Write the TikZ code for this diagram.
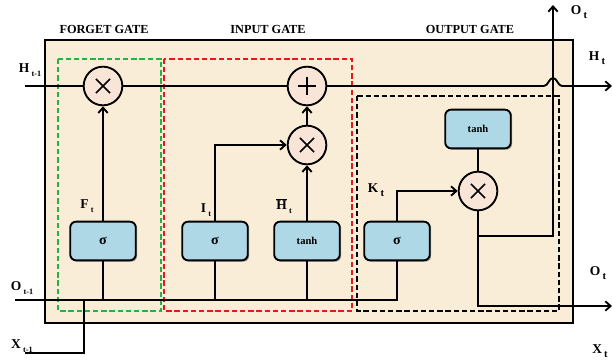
\documentclass[tikz,border=0pt]{standalone}
\usepackage{fontspec}
\setmainfont{Liberation Serif}
\usetikzlibrary{arrows.meta,shadows}

\definecolor{cellbg}{RGB}{250,237,216}
\definecolor{opfill}{RGB}{249,229,216}
\definecolor{actfill}{RGB}{174,216,229}
\definecolor{fgreen}{RGB}{40,175,70}
\definecolor{ired}{RGB}{228,25,25}

\newcommand{\idx}[2]{#1\raisebox{-0.6ex}{\,#2}}

\tikzset{
  wire/.style={line width=1.6pt},
  flow/.style={wire, -{Straight Barb[length=4.5pt,width=8pt]}},
  gatebox/.style={line width=1.5pt, dash pattern=on 4.5pt off 2.5pt},
  op/.style={circle, draw, line width=1.6pt, fill=opfill, minimum size=33pt, inner sep=0pt},
  mulop/.style={op, path picture={
      \draw[line width=1.3pt]
        ([shift={(-6pt,-6pt)}]path picture bounding box.center) -- ([shift={(6pt,6pt)}]path picture bounding box.center)
        ([shift={(-6pt,6pt)}]path picture bounding box.center) -- ([shift={(6pt,-6pt)}]path picture bounding box.center);}},
  addop/.style={op, path picture={
      \draw[line width=1.3pt]
        ([shift={(-8pt,0pt)}]path picture bounding box.center) -- ([shift={(8pt,0pt)}]path picture bounding box.center)
        ([shift={(0pt,8pt)}]path picture bounding box.center) -- ([shift={(0pt,-8pt)}]path picture bounding box.center);}},
  act/.style={draw, line width=1.6pt, rounded corners=5pt, fill=actfill,
    minimum width=56pt, minimum height=33pt, inner sep=0pt, font=\bfseries\large,
    drop shadow={shadow xshift=1.2pt, shadow yshift=-1.2pt, opacity=0.7}},
  tanhbox/.style={act, font=\bfseries\small},
  title/.style={font=\bfseries\fontsize{10.5}{12}\selectfont},
  lbl/.style={font=\bfseries\fontsize{11.5}{13}\selectfont, inner sep=1pt}
}

\begin{document}
\begin{tikzpicture}[x=0.03cm, y=-0.03cm]
  \useasboundingbox (0,0) rectangle (613,364);

  % cell body and the three gate regions
  \draw[line width=1.9pt, fill=cellbg] (45,40) rectangle (573,323);
  \draw[gatebox, draw=fgreen] (58,59) rectangle (161,311);
  \draw[gatebox, draw=ired] (164,59) rectangle (352,311);
  \draw[gatebox] (357,96) rectangle (559,311);

  \node[title] (tforget) at (104,29) {FORGET GATE};
  \node[title] (tinput) at (268,29) {INPUT GATE};
  \node[title] (toutput) at (470,29) {OUTPUT GATE};

  % pointwise operations
  \node[mulop] (fmul) at (103,86) {};
  \node[addop] (add) at (307,86) {};
  \node[mulop] (imul) at (307,145) {};
  \node[mulop] (omul) at (478,191) {};

  % layers
  \node[act] (fsig) at (103,241) {σ};
  \node[act] (isig) at (215,241) {σ};
  \node[tanhbox] (itanh) at (307,241) {tanh};
  \node[act] (osig) at (397,241) {σ};
  \node[tanhbox] (otanh) at (478,129) {tanh};

  % free ends
  \coordinate (hin) at (25,86);
  \coordinate (hopl) at (544,86);
  \coordinate (hopr) at (562,86);
  \coordinate (hout) at (612,86);
  \coordinate (oin) at (15,300);
  \coordinate (xin) at (25,353);
  \coordinate (xjoin) at (84,300);
  \coordinate (ojoin) at (478,236);
  \coordinate (otop) at (553,5);
  \coordinate (oout) at (612,306);

  % cell state line
  \draw[wire] (hin) -- (fmul) -- (add) -- (hopl);
  \draw[flow] (hopl) .. controls (548,86) and (549,78) .. (553,78)
    .. controls (557,78) and (558,86) .. (hopr) -- (hout);

  % inputs along the bottom
  \draw[wire] (oin) -| (osig.south);
  \draw[wire] (xin) -| (xjoin);
  \draw[wire] (fsig.south) -- (fsig.south |- oin);
  \draw[wire] (isig.south) -- (isig.south |- oin);
  \draw[wire] (itanh.south) -- (itanh.south |- oin);

  % gate signals
  \draw[flow] (fsig) -- (fmul);
  \draw[flow] (isig.north) |- (imul);
  \draw[flow] (itanh) -- (imul);
  \draw[flow] (imul) -- (add);
  \draw[flow] (osig.north) |- (omul);
  \draw[wire] (otanh) -- (omul);
  \draw[flow] (omul) |- (oout);
  \draw[flow] (ojoin) -| (otop);

  % labels
  \node[lbl] (lhprev) at (30,70) {\idx{H}{\scriptsize t-1}};
  \node[lbl] (loprev) at (22,288) {\idx{O}{\scriptsize t-1}};
  \node[lbl] (lxprev) at (22,346) {\idx{X}{\scriptsize t-1}};
  \node[lbl] (lf) at (87,206) {\idx{F}{\scriptsize t}};
  \node[lbl] (li) at (206,210) {\idx{I}{\scriptsize t}};
  \node[lbl] (lhbar) at (284,206) {\idx{$\overline{\textbf{H}}$}{\scriptsize t}};
  \node[lbl] (lk) at (376,190) {\idx{K}{\small t}};
  \node[lbl] (lotop) at (579,12) {\idx{O}{\small t}};
  \node[lbl] (lh) at (597,58) {\idx{H}{\small t}};
  \node[lbl] (lo) at (598,273) {\idx{O}{\small t}};
  \node[lbl] (lx) at (600,351) {\idx{X}{\small t}};
\end{tikzpicture}
\end{document}
